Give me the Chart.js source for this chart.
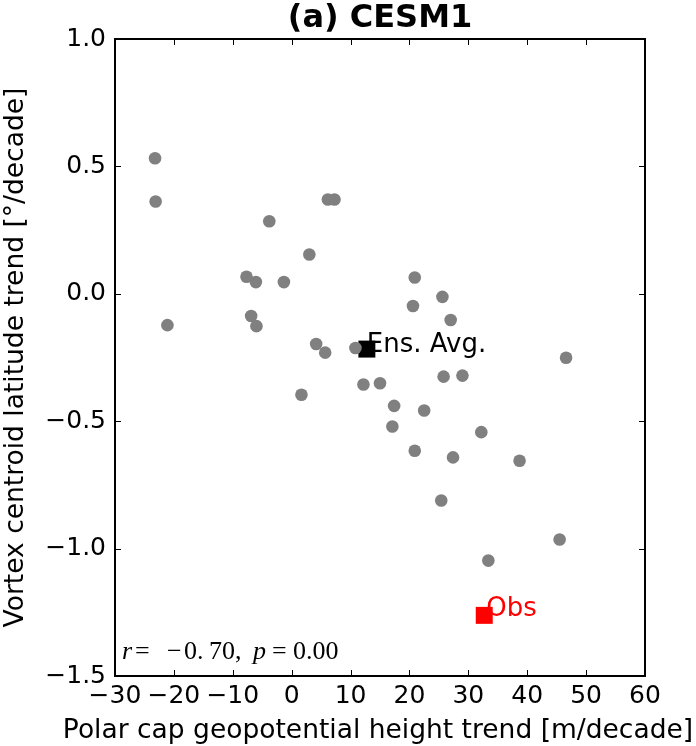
<!DOCTYPE html>
<html><head><meta charset="utf-8">
<script src="https://cdn.jsdelivr.net/npm/chart.js@4/dist/chart.umd.min.js"></script>
<style>html,body{margin:0;padding:0;background:#fff}</style>
</head><body>
<canvas id="c" width="696" height="746"></canvas>
<script>
// ---- data ----
const modelX = [-23.2, -23.1, -21.1, -3.8, 6.15, 7.27, 3.0, -7.67, -6.08, -1.32, -6.88, -5.98,
  20.9, 25.6, 20.6, 27.0, 4.16, 5.69, 10.83, 46.6, 25.8, 29.0, 12.19, 15.0, 1.66, 17.4,
  22.5, 17.1, 32.2, 20.9, 27.4, 38.7, 25.4, 45.5, 33.4];
const modelY = [0.532, 0.362, -0.123, 0.285, 0.370, 0.370, 0.154, 0.067, 0.046, 0.046, -0.087, -0.127,
  0.064, -0.012, -0.048, -0.103, -0.197, -0.231, -0.213, -0.251, -0.325, -0.321, -0.356, -0.351, -0.396, -0.440,
  -0.458, -0.521, -0.543, -0.616, -0.642, -0.655, -0.811, -0.964, -1.047];
const ensAvgX = [12.77];
const ensAvgY = [-0.217];
const obsX = [32.7];
const obsY = [-1.262];
const xTickValues = [-30, -20, -10, 0, 10, 20, 30, 40, 50, 60];
const yTickValues = [-1.5, -1.0, -0.5, 0.0, 0.5, 1.0];
const titleText = "(a) CESM1";
const xLabel = "Polar cap geopotential height trend [m/decade]";
const yLabel = "Vortex centroid latitude trend [°/decade]";
const ensLabel = "Ens. Avg.";
const obsLabel = "Obs";
const statR = "−0.70";
const statP = "0.00";

const FONT = "'DejaVu Sans', sans-serif";
const fmt = (v, d) => { const s = Math.abs(v).toFixed(d); return (v < 0 ? "\u2212" : "") + s; };
const toPts = (xs, ys) => xs.map((x, i) => ({x: x, y: ys[i]}));

const framePlugin = {
  id: 'frame',
  afterDatasetsDraw(chart) {
    const {ctx, chartArea: a, scales} = chart;
    ctx.save();
    // inward ticks on all four sides
    ctx.strokeStyle = '#000';
    ctx.lineWidth = 1;
    const L = 6;
    ctx.beginPath();
    xTickValues.forEach(v => {
      const px = Math.round(scales.x.getPixelForValue(v)) + 0.5;
      ctx.moveTo(px, a.bottom); ctx.lineTo(px, a.bottom - L);
      ctx.moveTo(px, a.top); ctx.lineTo(px, a.top + L);
    });
    yTickValues.forEach(v => {
      const py = Math.round(scales.y.getPixelForValue(v)) + 0.5;
      ctx.moveTo(a.left, py); ctx.lineTo(a.left + L, py);
      ctx.moveTo(a.right, py); ctx.lineTo(a.right - L, py);
    });
    ctx.stroke();
    ctx.lineWidth = 2;
    ctx.strokeRect(a.left, a.top, a.right - a.left, a.bottom - a.top);

    // x axis label (drawn here so it is not squeezed to the plot width)
    ctx.fillStyle = '#000';
    ctx.font = "26.5px " + FONT;
    ctx.textAlign = 'center';
    ctx.textBaseline = 'middle';
    ctx.fillText(xLabel, (a.left + a.right) / 2 - 2, 731);

    // annotations
    ctx.font = "26px " + FONT;
    ctx.textAlign = 'left';
    ctx.textBaseline = 'alphabetic';
    ctx.fillText(ensLabel, scales.x.getPixelForValue(ensAvgX[0]), scales.y.getPixelForValue(ensAvgY[0]) + 3);
    ctx.fillStyle = '#ff0000';
    ctx.fillText(obsLabel, scales.x.getPixelForValue(obsX[0]) + 2, scales.y.getPixelForValue(obsY[0]) + 1);

    // statistics text (serif, italic symbols, mathtext-like spacing)
    ctx.fillStyle = '#000';
    const y = a.bottom - 17;
    const parts = [["r", true, 7], ["=", false, 20], [statR.slice(0, 1), false, 52], [statR.slice(1, 3), false, 69],
                   [statR.slice(3) + ",", false, 94], ["p", true, 138], ["=", false, 157], [statP, false, 178]];
    parts.forEach(([t, it, off]) => {
      ctx.font = (it ? "italic " : "") + "26px 'Liberation Serif', serif";
      ctx.fillText(t, a.left + off, y);
    });
    ctx.restore();
  }
};

new Chart(document.getElementById('c'), {
  type: 'scatter',
  data: {
    datasets: [
      { data: toPts(modelX, modelY), backgroundColor: '#808080', borderWidth: 0, pointRadius: 6.3, pointHoverRadius: 6.3 },
      { data: toPts(ensAvgX, ensAvgY), backgroundColor: '#000000', borderWidth: 0, pointStyle: 'rect', pointRadius: 12, pointHoverRadius: 12 },
      { data: toPts(obsX, obsY), backgroundColor: '#ff0000', borderWidth: 0, pointStyle: 'rect', pointRadius: 12, pointHoverRadius: 12 }
    ]
  },
  options: {
    responsive: false,
    animation: false,
    devicePixelRatio: 1,
    layout: { padding: { top: 0, right: 51, left: 0, bottom: 0 } },
    plugins: {
      legend: { display: false },
      tooltip: { enabled: false },
      title: {
        display: true, text: titleText, fullSize: false, color: '#000',
        font: { family: FONT, size: 32, weight: 'bold', lineHeight: 1.0 },
        padding: { top: 3, bottom: 4 }
      }
    },
    scales: {
      x: {
        type: 'linear', position: 'bottom', min: -30, max: 60,
        afterBuildTicks: s => { s.ticks = xTickValues.map(v => ({value: v})); },
        ticks: { callback: v => fmt(v, 0), color: '#000', font: { family: FONT, size: 25 }, padding: 5, maxRotation: 0, autoSkip: false },
        grid: { display: false, drawTicks: false },
        border: { display: false },
        title: { display: false },
        afterFit: s => { s.height = 70; }
      },
      y: {
        type: 'linear', position: 'left', min: -1.5, max: 1.0,
        afterBuildTicks: s => { s.ticks = yTickValues.map(v => ({value: v})); },
        ticks: { callback: v => fmt(v, 1), color: '#000', font: { family: FONT, size: 25 }, padding: 9, autoSkip: false },
        grid: { display: false, drawTicks: false },
        border: { display: false },
        title: { display: true, text: yLabel, color: '#000', font: { family: FONT, size: 26.5, lineHeight: 1.2 }, padding: { top: 0, bottom: 0 } },
        afterFit: s => { s.width = 115; }
      }
    }
  },
  plugins: [framePlugin]
});
</script>
</body></html>
